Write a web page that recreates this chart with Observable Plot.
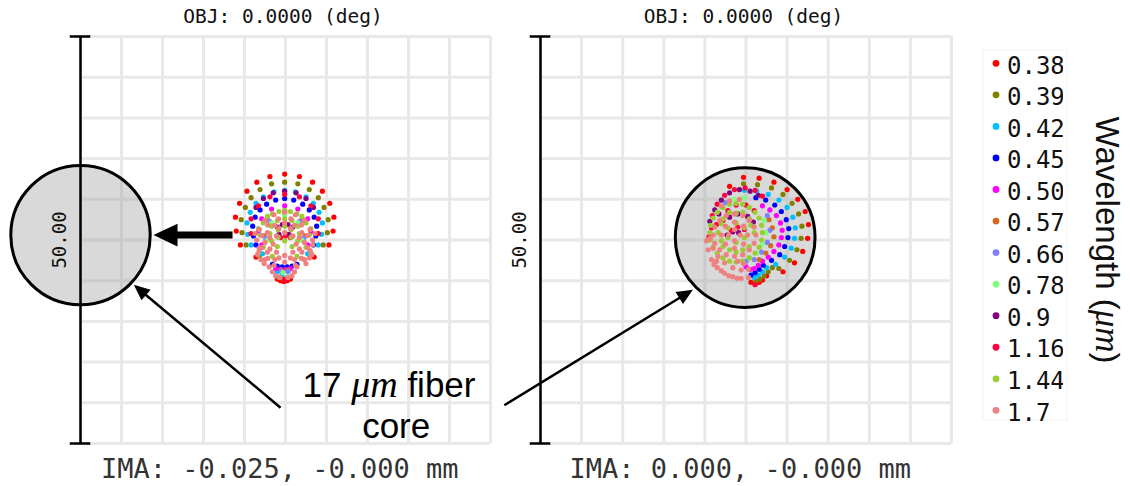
<!DOCTYPE html>
<html><head><meta charset="utf-8">
<script src="https://cdn.jsdelivr.net/npm/d3@7"></script>
<script src="https://cdn.jsdelivr.net/npm/@observablehq/plot@0.6"></script>
<style>
body{margin:0;background:#fff;}
#chart{position:relative;width:1130px;height:486px;overflow:hidden;background:#fff;}
#chart svg{position:absolute;top:0;}
</style></head><body><div id="chart"></div>
<script>
// ---------- data ----------
const wavelengths = ["0.38","0.39","0.42","0.45","0.50","0.57","0.66","0.78","0.9","1.16","1.44","1.7"];
const colors = ["#ff0000","#808000","#00bfff","#0000ff","#ff00ff","#d2691e","#8080ff","#80ff80","#800080","#ff0040","#9acd32","#f08080"];
const gridTicks = [-25,-20,-15,-10,-5,0,5,10,15,20,25];   // µm
const scaleBarLength = 50;                                   // µm
const fiberCoreDiameter = 17;                                // µm
const fiberCenterLeft = [-25, 0.6];                          // µm
const fiberCenterRight = [-0.1, 0.3];                        // µm
const panelTitles = ["OBJ: 0.0000 (deg)", "OBJ: 0.0000 (deg)"];
const imaLabels = ["IMA: -0.025, -0.000 mm", "IMA: 0.000, -0.000 mm"];

// spot diagram ray intercepts (µm), one string per wavelength
const spotsLeft = [
 "-0.1,8.1 1.7,7.8 -1.9,7.8 3.3,7.1 -3.5,7.1 4.5,6.0 -4.7,6.0 5.4,4.5 -5.6,4.5 5.9,2.8 -6.1,2.8 5.8,1.1 -6.0,1.1 5.3,-0.6 -5.5,-0.6 3.5,-2.1 -3.6,-2.1 -0.6,-5.0 -0.2,-5.1 0.2,-5.0 -1.0,-4.8 0.6,-4.8",
 "-0.1,7.1 1.5,6.9 -1.7,6.9 2.9,6.2 -3.1,6.2 4.0,5.2 -4.2,5.2 4.7,4.0 -4.9,4.0 5.2,2.5 -5.4,2.5 5.1,0.9 -5.3,0.9 4.6,-0.6 -4.8,-0.6 3.1,-1.9 -3.2,-1.9 -0.8,-4.6 -0.3,-4.75 0.3,-4.6",
 "-0.1,6.1 1.2,5.9 -1.4,5.9 2.5,5.3 -2.7,5.3 3.4,4.5 -3.6,4.5 4.1,3.4 -4.3,3.4 4.5,2.1 -4.7,2.1 4.4,0.7 -4.6,0.7 4.0,-0.6 -4.2,-0.6 2.7,-1.7 -2.8,-1.7 -0.4,-4.2 -1.0,-3.9 0.3,-3.9",
 "-0.1,5.1 1.0,4.9 -1.2,4.9 2.1,4.4 -2.3,4.4 2.9,3.7 -3.1,3.7 3.5,2.8 -3.7,2.8 3.8,1.7 -4.0,1.7 3.7,0.5 -3.9,0.5 3.4,-0.6 -3.6,-0.6 -1.6,-3.0 -1.0,-3.2 -0.4,-3.3 0.2,-3.3 0.8,-3.2 1.4,-3.0",
 "-0.1,4.2 1.5,3.8 -1.7,3.8 2.7,2.6 -2.9,2.6 3.1,1.0 -3.3,1.0 2.7,-0.6 -2.9,-0.6 -1.2,-3.5 -0.6,-3.6 0.0,-3.65 0.6,-3.5",
 "-0.1,3.6 2.0,2.5 -2.2,2.5 2.4,0.5 -2.6,0.5 -0.5,-3.7 0.3,-3.7",
 "-0.1,3.3 1.7,2.3 -1.9,2.3 2.2,0.2 -2.4,0.2 -0.5,-3.85 0.3,-3.85",
 "-0.1,3.0 1.5,2.1 -1.7,2.1 2.0,0.0 -2.2,0.0 -0.3,-4.0",
 "-0.1,6.0 1.3,5.8 -1.5,5.8 2.5,5.1 -2.7,5.1 3.4,4.0 -3.6,4.0 -1.0,1.6 -0.4,1.9 0.3,1.9 0.9,1.6 -0.8,0.7 0.4,0.7",
 "-0.1,5.6 1.7,5.3 -1.9,5.3 3.1,4.2 -3.3,4.2 4.0,2.6 -4.2,2.6 4.0,0.8 -4.2,0.8 -0.6,0.3 0.0,0.5 0.6,0.3 -0.1,-4.9",
 "-0.1,3.6 1.4,3.2 -1.6,3.2 2.5,2.1 -2.7,2.1 2.9,0.6 -3.1,0.6 2.5,-0.9 -2.7,-0.9 1.4,-2.0 -1.6,-2.0 -0.1,2.6 0.8,2.4 -1.0,2.4 1.5,1.7 -1.7,1.7 1.7,0.8 -1.9,0.8 1.5,-0.1 -1.7,-0.1 0.8,-0.8 -1.0,-0.8 -0.1,1.7 0.7,1.25 -0.9,1.25 0.7,0.35 -0.9,0.35 -0.1,-0.1 -3.3,-1.6 3.1,-1.6 0.6,3.5 -0.8,3.5 2.0,2.9 -2.2,2.9 3.1,1.4 -3.3,1.4",
 "-0.1,3.4 1.2,3.1 -1.4,3.1 2.3,2.4 -2.5,2.4 3.0,1.3 -3.2,1.3 3.3,0.0 -3.5,0.0 3.0,-1.3 -3.2,-1.3 2.3,-2.4 -2.5,-2.4 1.2,-3.1 -1.4,-3.1 0.65,2.6 -0.85,2.6 1.95,1.85 -2.15,1.85 2.7,0.55 -2.9,0.55 2.7,-0.95 -2.9,-0.95 1.95,-2.25 -2.15,-2.25 -0.1,2.1 1.1,1.8 -1.3,1.8 2.0,0.9 -2.2,0.9 2.3,-0.3 -2.5,-0.3 2.0,-1.5 -2.2,-1.5 1.1,-2.4 -1.3,-2.4 -0.1,-2.7 0.6,1.4 -0.8,1.4 1.7,0.3 -1.9,0.3 1.7,-1.1 -1.9,-1.1 0.6,-2.2 -0.8,-2.2 -0.1,0.9 0.9,0.5 -1.1,0.5 1.3,-0.5 -1.5,-0.5 0.9,-1.5 -1.1,-1.5 -0.1,-1.9 -2.0,-3.3 -1.6,-3.9 -1.2,-4.4 1.4,-3.3 1.1,-3.9 0.8,-4.4 -0.7,-4.6 0.3,-4.6 -3.2,-1.0 -3.0,-2.4 2.9,-2.2 3.3,-0.6 -3.7,0.8 3.6,0.8 -2.6,-2.9 2.5,-2.9 -3.4,-1.8 3.2,-1.8"
];
const spotsRight = [
 "-0.3,7.7 -2.0,6.6 1.6,7.6 3.4,7.1 5.0,6.2 6.3,5.0 7.2,3.5 7.6,1.9 7.5,0.2 6.9,-1.4 5.9,-2.8 4.5,-3.9 0.6,-5.2 1.1,-5.4 1.6,-5.2 2.0,-4.9 2.5,-4.4",
 "-0.3,6.9 1.4,6.8 3.1,6.4 4.5,5.6 5.6,4.5 6.4,3.2 6.8,1.7 6.7,0.2 6.2,-1.2 5.3,-2.5 4.0,-3.5 1.2,-5.0 1.7,-4.8 2.2,-4.4 2.7,-3.9 3.2,-3.4",
 "-0.2,6.1 1.3,6.0 2.7,5.6 4.0,4.9 5.0,4.0 5.7,2.8 6.0,1.5 5.9,0.2 5.5,-1.0 4.7,-2.1 3.6,-3.0 1.0,-4.6 1.5,-4.3 2.0,-3.9 2.5,-3.4",
 "1.2,5.2 2.4,4.9 3.5,4.3 4.3,3.5 4.9,2.5 5.2,1.4 5.1,0.3 4.7,-0.8 4.1,-1.8 3.1,-2.5 0.6,-4.3 1.1,-4.0 1.6,-3.6 2.1,-3.1",
 "2.0,4.2 2.9,3.7 3.7,3.0 4.2,2.1 4.4,1.2 4.3,0.3 4.0,-0.6 3.4,-1.4 2.7,-2.1 0.0,-3.3 0.5,-3.6 1.0,-3.5 1.5,-3.1 2.0,-2.6",
 "2.8,2.5 3.2,1.5 3.4,0.4 3.0,-0.7 2.4,-1.6 1.6,-2.4",
 "2.6,3.0 2.9,1.2 2.6,-0.3 1.9,-1.5 1.0,-2.4 0.0,-2.6 -2.5,4.6",
 "2.2,2.4 2.4,0.9 2.0,-0.5 1.3,-1.6 0.4,-2.2 -1.5,5.0 -3.0,4.0 -0.3,5.2",
 "-3.8,3.7 -3.0,4.9 -2.0,5.8 -0.8,6.2 0.5,6.0 1.5,5.5 -2.3,0.6 -1.6,1.0 -0.9,0.9 -2.0,2.8 -1.0,3.2 0.2,2.9 0.9,2.2 -4.4,2.3 -3.3,3.2",
 "-4.2,1.5 -4.1,3.0 -3.5,4.4 -2.6,5.5 -1.4,6.2 -0.1,6.4 1.1,6.1 2.0,5.4 -2.8,2.4 -2.2,3.6 -1.2,4.3 0.0,4.3 1.0,3.6 -1.8,1.2 -1.0,1.6 -0.2,1.3 1.1,-5.5 -4.5,0.4 -3.6,1.9",
 "-1.2,4.5 0.4,4.0 1.6,2.7 2.0,0.9 1.6,-0.9 0.4,-2.2 -1.2,-2.7 -2.8,-2.2 -4.0,-0.9 -4.4,0.9 -4.0,2.7 -2.8,4.0 -0.4,4.4 1.1,3.4 1.9,1.8 1.9,0.0 1.1,-1.6 -0.4,-2.6 -2.0,-2.6 -3.5,-1.6 -4.3,0.0 -4.3,1.8 -3.5,3.4 -2.0,4.4 -1.2,3.3 0.4,2.6 1.0,0.9 0.4,-0.8 -1.2,-1.5 -2.8,-0.8 -3.4,0.9 -2.8,2.6 -1.2,2.1 -0.2,1.5 -0.2,0.3 -1.2,-0.3 -2.2,0.3 -2.2,1.5 -0.4,3.4 0.6,1.8 -0.4,-1.2 -2.0,-1.2 -3.0,-0.1 -3.0,2.0 -2.0,3.4",
 "-4.6,-1.2 -4.2,-2.4 -3.5,-3.4 -2.6,-4.1 -1.6,-4.5 -0.6,-4.7 0.3,-4.6 -4.4,0.2 -4.0,-1.0 -3.4,-2.0 -2.6,-2.8 -1.6,-3.4 -0.6,-3.7 0.3,-3.6 -1.4,3.2 0.4,2.4 1.2,0.6 0.4,-1.2 -1.4,-2.0 -3.2,-1.2 -4.0,0.6 -3.2,2.4 -0.4,3.0 1.0,1.6 1.0,-0.4 -0.4,-1.8 -2.4,-1.8 -3.8,-0.4 -3.8,1.6 -2.4,3.0 -1.4,2.2 -0.3,1.7 0.2,0.6 -0.3,-0.5 -1.4,-1.0 -2.5,-0.5 -3.0,0.6 -2.5,1.7 -1.4,1.3 -0.7,0.6 -1.4,-0.1 -2.1,0.6 -3.0,4.2 -2.0,4.8 -0.8,5.0 -4.8,-0.1 -3.9,-3.0 -3.0,-3.8 -2.1,-4.4 -1.1,-4.7 -3.6,-2.6 -0.3,-2.9 -1.0,-2.6"
];

// ---------- helpers ----------
const parse = arr => arr.flatMap((s, i) => s.trim().split(/\s+/).map(p => {
  const [x, y] = p.split(",").map(Number); return {x, y, w: wavelengths[i]};
}));
const MONO = "DejaVu Sans Mono";
const SANS = "Liberation Sans, Arial, sans-serif";

function arrowMarks(a) {
  const dx = a.x2 - a.x1, dy = a.y2 - a.y1, L = Math.hypot(dx, dy), ux = dx / L, uy = dy / L;
  const bx = a.x2 - ux * a.hl, by = a.y2 - uy * a.hl;
  const tri = [{x: a.x2, y: a.y2}, {x: bx - uy * a.hw, y: by + ux * a.hw}, {x: bx + uy * a.hw, y: by - ux * a.hw}];
  return [
    Plot.link([a], {x1: "x1", y1: "y1", x2: () => bx + ux * 0.3, y2: () => by + uy * 0.3, stroke: "black", strokeWidth: a.w}),
    Plot.line(tri, {x: "x", y: "y", fill: "black", stroke: "none"})
  ];
}

function panel({spots, xRange, width, center, title, ima, extra}) {
  const pxPerUm = (xRange[1] - xRange[0]) / 50;
  const rCore = fiberCoreDiameter / 2 * pxPerUm;
  const half = scaleBarLength / 2;
  return Plot.plot({
    width, height: 486,
    x: {domain: [-25, 25], range: xRange, axis: null},
    y: {domain: [-25, 25], range: [443, 36], axis: null},
    color: {domain: wavelengths, range: colors},
    style: {background: "transparent", overflow: "visible"},
    marks: [
      Plot.ruleX(gridTicks, {x: d => d, y1: -25, y2: 25, stroke: "#e8e8e8", strokeWidth: 3}),
      Plot.ruleY(gridTicks, {y: d => d, x1: -25, x2: 25, stroke: "#e8e8e8", strokeWidth: 3}),
      Plot.dot([center], {x: d => d[0], y: d => d[1], r: rCore, fill: "#a0a0a0", fillOpacity: 0.4, stroke: "none"}),
      Plot.ruleX([-25], {y1: -half, y2: half, stroke: "black", strokeWidth: 2.5}),
      Plot.ruleY([-half, half], {x1: -26.25, x2: -23.75, stroke: "black", strokeWidth: 2.5}),
      Plot.text([scaleBarLength.toFixed(2)], {x: -27.5, y: 0, rotate: -90, fontFamily: MONO, fontSize: 19, fill: "#111"}),
      Plot.dot(spots, {x: "x", y: "y", fill: "w", r: 2.6}),
      Plot.dot([center], {x: d => d[0], y: d => d[1], r: rCore, fill: "none", stroke: "black", strokeWidth: 3}),
      Plot.text([title], {x: -0.3, y: 26.66, lineAnchor: "bottom", fontFamily: MONO, fontSize: 19.5, fill: "#111"}),
      Plot.text([ima], {x: -0.7, y: -29.2, lineAnchor: "bottom", fontFamily: MONO, fontSize: 27, fill: "#333"}),
      ...extra
    ]
  });
}

const chart = document.getElementById("chart");

const left = panel({
  spots: parse(spotsLeft), xRange: [80, 490], width: 500, center: fiberCenterLeft,
  title: panelTitles[0], ima: imaLabels[0],
  extra: [
    ...arrowMarks({x1: -6.46, y1: 0.6, x2: -16.1, y2: 0.6, w: 7, hl: 2.93, hw: 1.41}),
    ...arrowMarks({x1: -0.6, y1: -20.6, x2: -18.5, y2: -5.5, w: 2.5, hl: 1.95, hw: 0.86}),
    Plot.text(["17 μm fiber"], {x: 2.07, y: -19.3, textAnchor: "start", lineAnchor: "bottom", fontFamily: SANS, fontSize: 35, fill: "#000"}),
    Plot.text(["core"], {x: 13.5, y: -24.3, lineAnchor: "bottom", fontFamily: SANS, fontSize: 35, fill: "#000"})
  ]
});
left.style.left = "0px";
chart.appendChild(left);

const right = panel({
  spots: parse(spotsRight), xRange: [80, 491], width: 520, center: fiberCenterRight,
  title: panelTitles[1], ima: imaLabels[1],
  extra: [
    ...arrowMarks({x1: -29.4, y1: -20.3, x2: -6.46, y2: -6.1, w: 2.5, hl: 1.95, hw: 0.86})
  ]
});
right.style.left = "460px";
chart.appendChild(right);

// rich text: italic math μm
d3.select(left).selectAll("text").filter(function () { return this.textContent === "17 μm fiber"; })
  .each(function () {
    const t = d3.select(this).style("white-space", "pre");
    t.text(null);
    t.append("tspan").text("17 ");
    t.append("tspan").attr("font-family", "Liberation Serif, serif").attr("font-style", "italic").attr("font-size", 38).text("μm");
    t.append("tspan").text(" fiber");
  });

// legend
const lg = d3.select(chart).append("svg").attr("width", 1130).attr("height", 486).style("left", "0px").style("pointer-events", "none");
lg.append("defs").append("clipPath").attr("id", "lgclip").append("rect").attr("x", 980).attr("y", 40).attr("width", 83).attr("height", 400);
lg.append("rect").attr("x", 983).attr("y", 50).attr("width", 84).attr("height", 370).attr("fill", "none").attr("stroke", "#f2f2f2");
const rows = lg.append("g").attr("clip-path", "url(#lgclip)");
wavelengths.forEach((w, i) => {
  const y0 = 63.3 + i * 31.55;
  rows.append("circle").attr("cx", 996).attr("cy", y0).attr("r", 3.4).attr("fill", colors[i]);
  rows.append("text").attr("x", 1007).attr("y", y0 + 10.2).attr("font-family", MONO).attr("font-size", 24).attr("fill", "#111").text(w);
});
const wl = lg.append("text").attr("transform", "translate(1096,240) rotate(90)").attr("text-anchor", "middle")
  .attr("font-family", SANS).attr("font-size", 33).attr("fill", "#111").style("white-space", "pre");
wl.append("tspan").text("Wavelength (");
wl.append("tspan").attr("font-family", "Liberation Serif, serif").attr("font-style", "italic").attr("font-size", 35).text("μm");
wl.append("tspan").text(")");
</script></body></html>
